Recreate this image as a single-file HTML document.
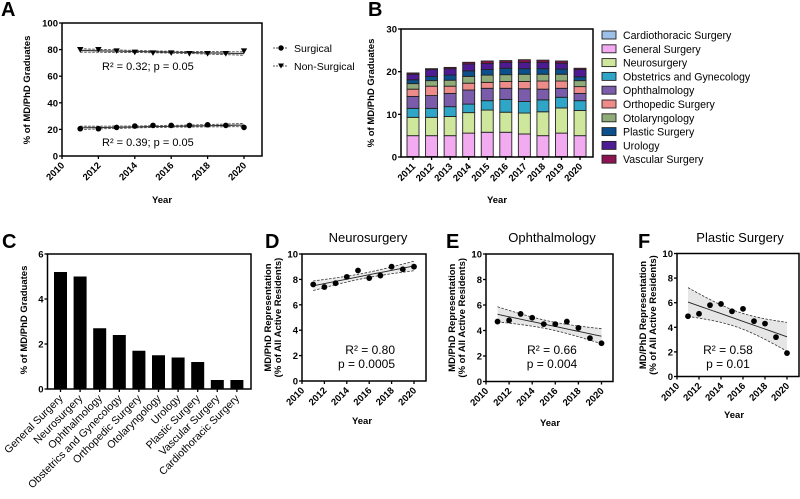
<!DOCTYPE html>
<html><head><meta charset="utf-8">
<style>
html,body{margin:0;padding:0;background:#fff;}
svg{display:block;font-family:"Liberation Sans",Arial,sans-serif;}
.tk{font-size:9.5px;font-weight:bold;}
.tt{font-size:9.5px;font-weight:bold;}
.pl{font-size:20px;font-weight:bold;}
</style></head>
<body>
<svg id="fig" width="800" height="499" viewBox="0 0 800 499" xmlns="http://www.w3.org/2000/svg"></svg>
<script>
// ---------- DATA ----------
const yearsA = [2011,2012,2013,2014,2015,2016,2017,2018,2019,2020];
const surgicalA = [20.5,20.5,21.5,22.5,23,23,23,23.5,23,21.5];
const nonSurgicalA = [80,80,79,78,77.5,77.5,77,77,77,79];
const xTicksYear = [2010,2012,2014,2016,2018,2020];
const yTicksA = [0,20,40,60,80,100];

const yearsB = [2011,2012,2013,2014,2015,2016,2017,2018,2019,2020];
const specialtiesB = ["Cardiothoracic Surgery","General Surgery","Neurosurgery","Obstetrics and Gynecology","Ophthalmology","Orthopedic Surgery","Otolaryngology","Plastic Surgery","Urology","Vascular Surgery"];
const ctB = [0.1,0.1,0.1,0.1,0.1,0.1,0.1,0.1,0.1,0.1];
const gsB = [4.9,4.9,4.9,5.5,5.7,5.7,5.3,4.9,5.5,4.9];
const nsB = [4.3,4.3,4.5,4.8,5.2,4.7,4.9,5.6,5.9,5.9];
const obB = [2.1,2.1,2.3,2.0,2.2,3.0,2.7,2.8,2.5,2.3];
const opB = [2.8,3.0,3.1,3.3,2.9,2.6,3.0,2.5,2.1,1.7];
const orB = [1.7,2.2,1.7,1.6,1.4,1.6,1.7,1.9,1.7,1.6];
const otB = [1.3,1.3,1.4,1.6,1.7,1.6,1.7,1.6,1.6,1.4];
const plB = [0.9,1.0,1.2,1.3,1.3,1.5,1.3,1.3,1.2,0.9];
const urB = [1.3,1.6,1.5,1.6,1.4,1.4,1.5,1.5,1.4,1.7];
const vaB = [0.3,0.2,0.3,0.4,0.6,0.4,0.6,0.5,0.5,0.3];
const yTicksB = [0,10,20,30];

const categoriesC = ["General Surgery","Neurosurgery","Ophthalmology","Obstetrics and Gynecology","Orthopedic Surgery","Otolaryngology","Urology","Plastic Surgery","Vascular Surgery","Cardiothoracic Surgery"];
const valuesC = [5.2,5.0,2.7,2.4,1.7,1.5,1.4,1.2,0.4,0.4];
const yTicksC = [0,2,4,6];

const yearsDEF = [2011,2012,2013,2014,2015,2016,2017,2018,2019,2020];
const neuroD = [7.6,7.4,7.7,8.2,8.7,8.1,8.3,9.0,8.8,9.0];
const ophthE = [4.7,4.8,5.3,5.0,4.5,4.5,4.7,4.2,3.4,3.0];
const plasticF = [4.9,5.1,5.8,5.9,5.3,5.5,4.5,4.3,3.2,1.9];
const yTicksDEF = [0,2,4,6,8,10];

const colorsB = ["#9cc0e8","#f2aaf0","#cfe79c","#2fa6c8","#7b5cab","#ee8c8a","#8fab7a","#0c4f8d","#4e1b93","#8b1451"];

// ---------- HELPERS ----------
const svg = document.getElementById('fig');
const NS = 'http://www.w3.org/2000/svg';
function mk(tag, attrs, parent){
  const e = document.createElementNS(NS, tag);
  for (const k in attrs) e.setAttribute(k, attrs[k]);
  (parent||svg).appendChild(e);
  return e;
}
function txt(s, attrs, parent){ const t = mk('text', attrs, parent); t.textContent = s; return t; }
function lin(x0,x1,p0,p1){ return v => p0 + (v-x0)/(x1-x0)*(p1-p0); }
function regress(xs, ys){
  const n = xs.length; const mx = xs.reduce((a,b)=>a+b)/n, my = ys.reduce((a,b)=>a+b)/n;
  let sxx=0,sxy=0; xs.forEach((x,i)=>{sxx+=(x-mx)**2; sxy+=(x-mx)*(ys[i]-my);});
  const b = sxy/sxx, a = my-b*mx;
  let sse=0; xs.forEach((x,i)=>{sse+=(ys[i]-a-b*x)**2;});
  const s = Math.sqrt(sse/(n-2));
  return {a,b,mx,sxx,s,n};
}
function drawFit(g, xs, ys, X, Y, fill){
  const r = regress(xs, ys);
  const t = 2.306;
  const pts = []; const lo=[], hi=[];
  for (let k=0;k<=20;k++){
    const x = xs[0] + (xs[xs.length-1]-xs[0])*k/20;
    const yh = r.a + r.b*x;
    const se = r.s*Math.sqrt(1/r.n + (x-r.mx)**2/r.sxx);
    pts.push([X(x),Y(yh)]); lo.push([X(x),Y(yh-t*se)]); hi.push([X(x),Y(yh+t*se)]);
  }
  const band = mk('path',{d:'M'+hi.map(p=>p.join(',')).join('L')+'L'+lo.slice().reverse().map(p=>p.join(',')).join('L')+'Z',fill:fill,stroke:'none'},g);
  
  
  const l1 = mk('path',{d:'M'+hi.map(p=>p.join(',')).join('L'),fill:'none',stroke:'#333','stroke-width':0.8,'stroke-dasharray':'2.5,1.5'},g);
  
  
  const l2 = mk('path',{d:'M'+lo.map(p=>p.join(',')).join('L'),fill:'none',stroke:'#333','stroke-width':0.8,'stroke-dasharray':'2.5,1.5'},g);
  
  
  const l3 = mk('path',{d:'M'+pts.map(p=>p.join(',')).join('L'),fill:'none',stroke:'#222','stroke-width':0.9},g);
  
  
}
function frame(g, L, T, R, B){
  const f = mk('path',{d:`M${L},${T}H${R}V${B}H${L}Z`,fill:'none',stroke:'#000','stroke-width':1.5},g);
  
  
}
function yAxis(g, ticks, Y, L){
  ticks.forEach(v=>{
    mk('line',{x1:L-3,x2:L,y1:Y(v),y2:Y(v),stroke:'#000','stroke-width':1.3},g);
    const t = txt(String(v),{x:L-4,y:Y(v)+3.5,'text-anchor':'end',class:'tk'},g);
    
    
  });
}
function xYearAxis(g, ticks, X, B){
  ticks.forEach(v=>{
    mk('line',{x1:X(v),x2:X(v),y1:B,y2:B+3,stroke:'#000','stroke-width':1.3},g);
    const t = txt(String(v),{x:X(v)+3,y:B+10,'text-anchor':'end',class:'tk',transform:`rotate(-45 ${X(v)+3} ${B+10})`},g);
    
    
  });
}
function label(s, x, y){
  const t = txt(s,{x:x,y:y,class:'pl'});
  
  
}
function yTitle(g, lines, x, y){
  lines.forEach((s,i)=>{
    const t = txt(s,{x:x+i*10,y:y,'text-anchor':'middle',class:'tt',transform:`rotate(-90 ${x+i*10} ${y})`, 'font-size': i? '8.8px':'9.8px'},g);
    
    
  });
}
function xTitle(g, x, y){
  const t = txt('Year',{x:x,y:y,'text-anchor':'middle',class:'tt','font-size':'11px'},g);
  
  
}

// ---------- PANEL A ----------
label('A',1,16);
const gA = mk('g',{});


{
  const L=62,R=262,T=23,B=156;
  const X = lin(2010,2020,62,244), Y = lin(0,100,156,23);
  drawFit(gA, yearsA, surgicalA, X, Y, '#d8d8d8');
  drawFit(gA, yearsA, nonSurgicalA, X, Y, '#d8d8d8');
  yearsA.forEach((yr,i)=>{
    const c = mk('circle',{cx:X(yr),cy:Y(surgicalA[i]),r:2.8,fill:'#000'},gA);
    
    
    const x=X(yr), y=Y(nonSurgicalA[i]);
    const p = mk('path',{d:`M${x-3.2},${y-2.6}L${x+3.2},${y-2.6}L${x},${y+3}Z`,fill:'#000'},gA);
    
    
  });
  mk('path',{d:`M${L},${T}V${B}H${R}V${T}H${L}`,fill:'none',stroke:'#000','stroke-width':1.5},gA);
  yAxis(gA, yTicksA, Y, L);
  xYearAxis(gA, xTicksYear, X, B);
  yTitle(gA, ['% of MD/PhD Graduates'], 30, 90);
  xTitle(gA, 162, 203);
  const r1 = txt('R² = 0.32; p = 0.05',{x:102,y:70,'font-size':'11px'},gA);
  
  
  const r2 = txt('R² = 0.39; p = 0.05',{x:102,y:146,'font-size':'11px'},gA);
  
  
  const lg1 = mk('g',{},gA);
  
  
  mk('line',{x1:273,x2:287,y1:48,y2:48,stroke:'#555','stroke-width':1,'stroke-dasharray':'2,1'},lg1);
  mk('circle',{cx:281,cy:48,r:2.7,fill:'#000'},lg1);
  txt('Surgical',{x:294,y:52,'font-size':'10.5px'},lg1);
  const lg2 = mk('g',{},gA);
  
  
  mk('line',{x1:273,x2:287,y1:66,y2:66,stroke:'#555','stroke-width':1,'stroke-dasharray':'2,1'},lg2);
  mk('path',{d:'M278,63.5L284,63.5L281,68.5Z',fill:'#000'},lg2);
  txt('Non-Surgical',{x:294,y:70,'font-size':'10.5px'},lg2);
}

// ---------- PANEL B ----------
label('B',368,16);
const gB = mk('g',{});


{
  const L=401,R=593,T=29,B=157;
  const Y = lin(0,30,157,29);
  const X = i => 413 + i*18.56;
  const series = [ctB,gsB,nsB,obB,opB,orB,otB,plB,urB,vaB];
  yearsB.forEach((yr,i)=>{
    let acc = 0;
    series.forEach((s,k)=>{
      const v = s[i];
      const r = mk('rect',{x:X(i)-6,y:Y(acc+v),width:12,height:Y(acc)-Y(acc+v),fill:colorsB[k],stroke:'#222','stroke-width':0.9},gB);
      
      
      acc += v;
    });
    mk('line',{x1:X(i),x2:X(i),y1:B,y2:B+3,stroke:'#000','stroke-width':1.3},gB);
    const t = txt(String(yr),{x:X(i)+3,y:B+10,'text-anchor':'end',class:'tk',transform:`rotate(-45 ${X(i)+3} ${B+10})`},gB);
    
    
  });
  frame(gB,L,T,R,B);
  yAxis(gB, yTicksB, Y, L);
  yTitle(gB, ['% of MD/PhD Graduates'], 374, 93);
  xTitle(gB, 497, 203);
  specialtiesB.forEach((s,k)=>{
    const y = 35 + k*13.8;
    const e = mk('g',{},gB);
    
    
    mk('rect',{x:602,y:y-4,width:14,height:8,fill:colorsB[k],stroke:'#222','stroke-width':0.9},e);
    txt(s,{x:623,y:y+4,'font-size':'10.6px'},e);
  });
}

// ---------- PANEL C ----------
label('C',2,248);
const gC = mk('g',{});


{
  const L=47.5,R=251,T=254,B=389;
  const Y = lin(0,6,389,254);
  const X = i => 60.5 + i*19.6;
  categoriesC.forEach((c,i)=>{
    const r = mk('rect',{x:X(i)-6.5,y:Y(valuesC[i]),width:13,height:B-Y(valuesC[i]),fill:'#000'},gC);
    
    
    mk('line',{x1:X(i),x2:X(i),y1:B,y2:B+3,stroke:'#000','stroke-width':1.3},gC);
    const t = txt(c,{x:X(i)+3,y:B+10,'text-anchor':'end','font-size':'10.6px',transform:`rotate(-45 ${X(i)+3} ${B+10})`},gC);
    
    
  });
  frame(gC,L,T,R,B);
  yAxis(gC, yTicksC, Y, L);
  yTitle(gC, ['% of MD/PhD Graduates'], 27, 320);
}

// ---------- PANELS D/E/F ----------
function scatterPanel(name, data, cfg){
  const g = mk('g',{});
  
  
  const X = lin(2010,2020,cfg.L,cfg.x2020), Y = lin(0,10,cfg.B,cfg.T);
  drawFit(g, yearsDEF, data, X, Y, cfg.fill);
  yearsDEF.forEach((yr,i)=>{
    const c = mk('circle',{cx:X(yr),cy:Y(data[i]),r:2.9,fill:'#000'},g);
    
    
  });
  frame(g,cfg.L,cfg.T,cfg.R,cfg.B);
  yAxis(g, yTicksDEF, Y, cfg.L);
  xYearAxis(g, xTicksYear, X, cfg.B);
  yTitle(g, ['MD/PhD Representation','(% of All Active Residents)'], cfg.L-31, (cfg.T+cfg.B)/2);
  xTitle(g, cfg.yx, cfg.yy);
  const tt = txt(cfg.title,{x:cfg.tx,y:242,'text-anchor':'middle','font-size':'13px'},g);
  
  
  const s1 = txt(cfg.r2,{x:cfg.sx,y:354,'text-anchor':cfg.anchor,'font-size':'12px'},g);
  
  
  const s2 = txt(cfg.p,{x:cfg.sx,y:368,'text-anchor':cfg.anchor,'font-size':'12px'},g);
  
  
}
label('D',265,248);
scatterPanel('panel-d-neurosurgery', neuroD, {L:302,R:426,T:254,B:381,x2020:414,fill:'#ececec',title:'Neurosurgery',tx:368,r2:'R² = 0.80',p:'p = 0.0005',sx:395,anchor:'end',yx:362,yy:424});
label('E',446,248);
scatterPanel('panel-e-ophthalmology', ophthE, {L:486,R:613,T:254,B:381.5,x2020:601.5,fill:'#e6e6e6',title:'Ophthalmology',tx:552,r2:'R² = 0.66',p:'p = 0.004',sx:552,anchor:'middle',yx:550,yy:426});
label('F',638,248);
scatterPanel('panel-f-plastic-surgery', plasticF, {L:677,R:799,T:253.5,B:376.5,x2020:787,fill:'#e6e6e6',title:'Plastic Surgery',tx:740,r2:'R² = 0.58',p:'p = 0.01',sx:728,anchor:'middle',yx:734,yy:418});
</script>
</body></html>
